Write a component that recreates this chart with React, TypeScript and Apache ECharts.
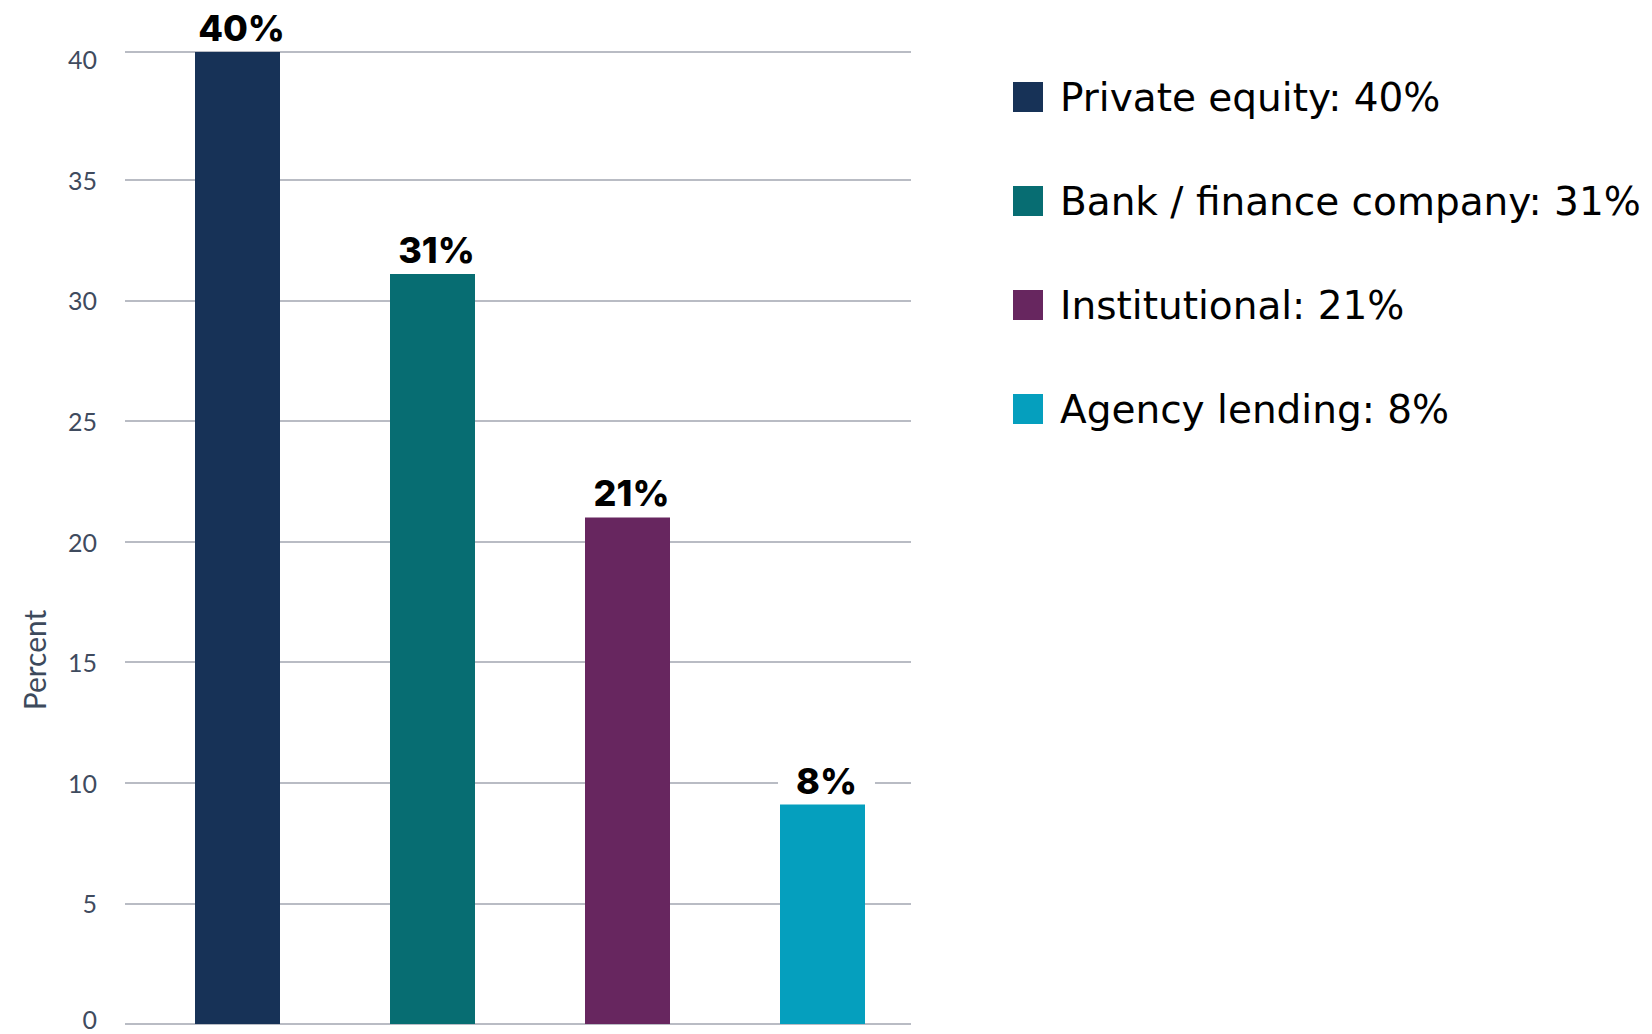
import React, { useEffect, useRef } from "react";
import * as echarts from "echarts";

const categories = ["Private equity", "Bank / finance company", "Institutional", "Agency lending"];
const values = [40.3, 31.1, 21, 9.1];
const valueLabels = ["40%", "31%", "21%", "8%"];
const colors = ["#173257", "#076d72", "#67265f", "#059fbe"];
const yTicks = { min: 0, max: 40.3, interval: 5 };
const yTitle = "Percent";

export default function App() {
  const ref = useRef<HTMLDivElement>(null);
  useEffect(() => {
    const chart = echarts.init(ref.current!, null, { renderer: "svg" });
    const series = categories.map((name, i) => ({
      type: "bar",
      name,
      xAxisIndex: 1,
      yAxisIndex: 1,
      barWidth: 85,
      barGap: "-100%",
      z: 3,
      itemStyle: { color: colors[i] },
      data: values.map((v, j) => (j === i ? v : "-")),
      label: {
        show: true,
        position: "top",
        distance: 6,
        offset: [4, 0],
        formatter: () => valueLabels[i],
        fontFamily: "Inter",
        fontWeight: 800,
        fontSize: 36,
        color: "#000",
        backgroundColor: "#fff",
        padding: [0, 18, 0, 18],
      },
    }));
    const nTicks = Math.floor(yTicks.max / yTicks.interval) + 1;
    const lineColors: string[] = [];
    for (let k = 0; k < nTicks; k++) lineColors.push(k === nTicks - 1 ? "rgba(0,0,0,0)" : "#b9bcc4");
    lineColors.push("#b9bcc4");
    chart.setOption({
      animation: false,
      backgroundColor: "#fff",
      grid: [
        { left: 125, right: 741, top: 52, bottom: 10, outerBoundsMode: "none", containLabel: false },
        { left: 140, right: 732, top: 52, bottom: 10, outerBoundsMode: "none", containLabel: false },
      ],
      xAxis: [
        { type: "category", gridIndex: 0, data: categories, show: false },
        { type: "category", gridIndex: 1, data: categories, show: false },
      ],
      yAxis: [
        {
          type: "value",
          gridIndex: 0,
          min: yTicks.min,
          max: yTicks.max,
          interval: yTicks.interval,
          axisLine: { show: false },
          axisTick: { show: false },
          axisLabel: {
            fontFamily: "Lato",
            fontSize: 25,
            lineHeight: 18,
            color: "#3f4b5e",
            margin: 28,
            formatter: (v: number) =>
              v % yTicks.interval !== 0 ? "" : v === 0 ? "{z|0}" : String(v),
            rich: { z: { fontFamily: "Lato", fontSize: 25, lineHeight: 10, color: "#3f4b5e", padding: [0, 0, 10, 0] } },
          },
          splitLine: { lineStyle: { color: lineColors, width: 2 } },
        },
        {
          type: "value",
          gridIndex: 1,
          min: yTicks.min,
          max: yTicks.max,
          interval: yTicks.interval,
          show: false,
          splitLine: { show: false },
        },
      ],
      legend: {
        orient: "vertical",
        left: 1008,
        top: 72,
        icon: "rect",
        itemWidth: 30,
        itemHeight: 30,
        itemGap: 64,
        selectedMode: false,
        data: categories,
        formatter: (name: string) => name + ": " + valueLabels[categories.indexOf(name)],
        textStyle: { fontFamily: "DejaVu Sans", fontSize: 39, color: "#000", lineHeight: 40, padding: [0, 0, 0, 12] },
      },
      graphic: [
        {
          type: "text",
          x: 34,
          y: 660,
          rotation: Math.PI / 2,
          style: {
            text: yTitle,
            fontFamily: "Lato",
            fontSize: 30,
            fill: "#3d4a5c",
            align: "center",
            verticalAlign: "middle",
          },
        },
      ],
      series,
    });
    return () => chart.dispose();
  }, []);
  return <div ref={ref} style={{ position: "fixed", left: 0, top: 0, width: 1652, height: 1034 }} />;
}
